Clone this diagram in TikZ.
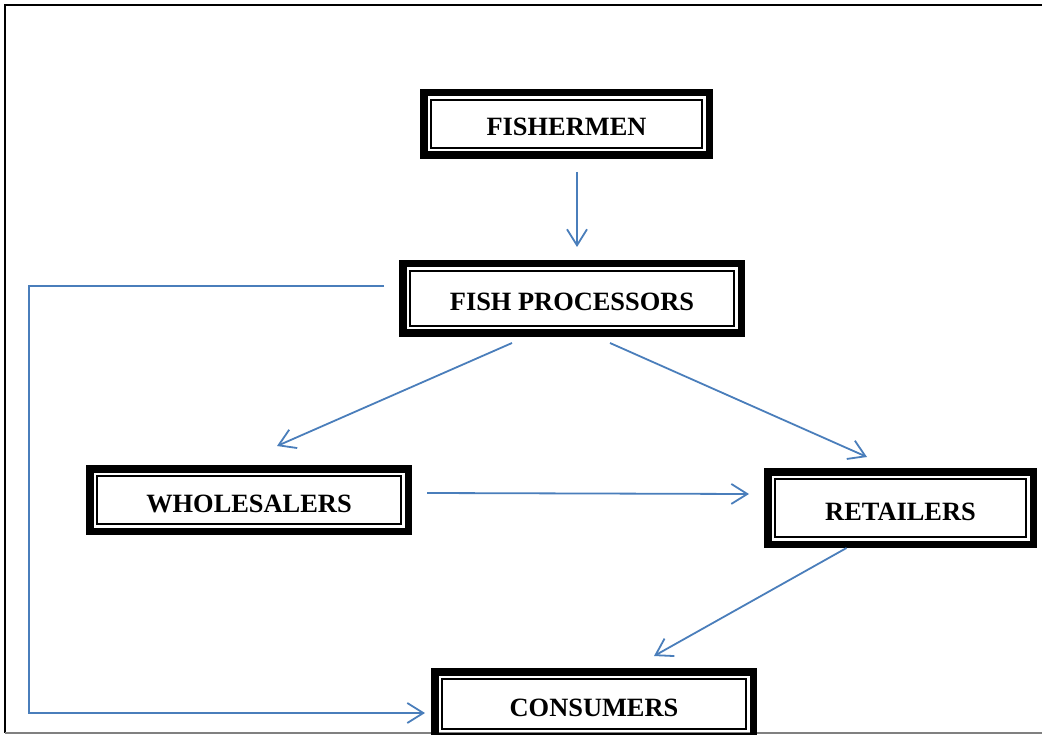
\documentclass[tikz,border=0pt]{standalone}
\usepackage{fontspec}
\setmainfont{Liberation Serif}
\usetikzlibrary{arrows.meta}
\definecolor{flowblue}{RGB}{74,126,187}
\tikzset{
  stage/.style={draw, line width=7.5pt, inner sep=0pt, text height=24pt, text depth=0pt,
    font=\bfseries\fontsize{26.4}{30}\selectfont,
    path picture={\draw[line width=2pt] ([shift={(7.3pt,-7.3pt)}]path picture bounding box.north west) rectangle ([shift={(-7.3pt,7.3pt)}]path picture bounding box.south east);}},
  flow/.style={draw=flowblue, line width=1.8pt, -{Straight Barb[length=16pt,width=20pt]}}
}
\begin{document}
\begin{tikzpicture}[x=1pt,y=-1pt]
    \clip (0,0) rectangle (1042,735);
    \draw[line width=2pt] (1050,5) -- (5,5) -- (5,733);
    \draw[line width=1.5pt,gray] (5,733) -- (1050,733);
    \node[stage, minimum width=285.5, minimum height=62.5] (fisher) at (566.5,124) {FISHERMEN};
    \node[stage, minimum width=338.5, minimum height=69.5] (proc) at (572,298.5) {FISH PROCESSORS};
    \node[stage, minimum width=318.5, minimum height=62.5] (whole) at (249,500) {WHOLESALERS};
    \node[stage, minimum width=265.5, minimum height=72.5] (retail) at (900.5,508) {RETAILERS};
    \node[stage, minimum width=318.5, minimum height=64.5] (cons) at (594,704) {CONSUMERS};
    \draw[flow] ([shift={(10.5,13)}]fisher.south) -- ([shift={(5,-13)}]proc.north);
    \draw[flow] ([shift={(-60,6)}]proc.south) -- ([shift={(28,-19)}]whole.north);
    \draw[flow] ([shift={(38,6)}]proc.south) -- ([shift={(-33.5,-11)}]retail.north);
    \draw[flow] ([shift={(15,-7)}]whole.east) -- ([shift={(-15,-14)}]retail.west);
    \draw[flow] ([shift={(-54,0)}]retail.south) -- ([shift={(60,-12)}]cons.north);
    \draw[flow] ([shift={(-15,-12.5)}]proc.west) -- ++(-355,0) |- ([shift={(-6,9)}]cons.west);
\end{tikzpicture}
\end{document}
